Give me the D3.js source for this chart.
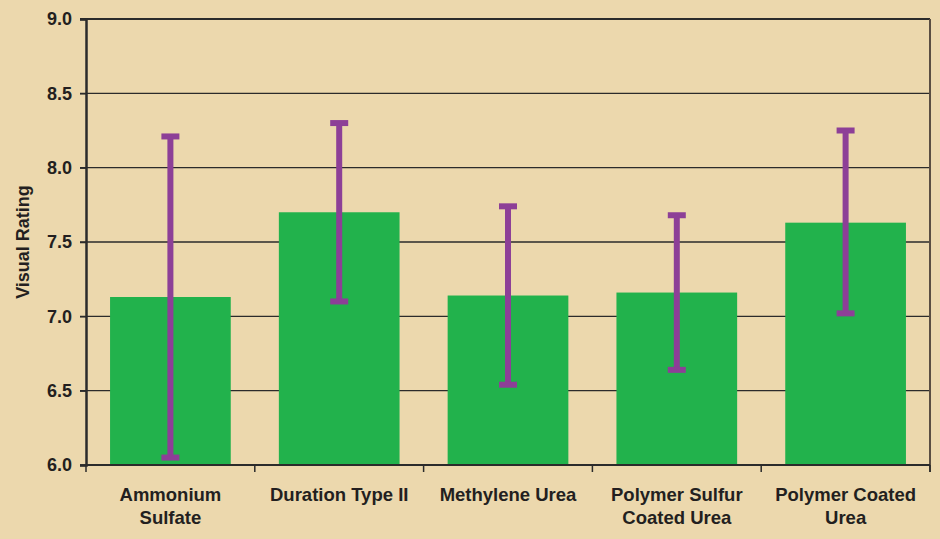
<!DOCTYPE html>
<html>
<head>
<meta charset="utf-8">
<script src="https://cdn.jsdelivr.net/npm/d3@7"></script>
<style>
  body { margin: 0; background: #ecd8ad; }
  text { font-family: "Liberation Sans", Arial, sans-serif; font-weight: bold; fill: #231f20; }
</style>
</head>
<body>
<div id="chart"></div>
<script>
// data
var categories = [["Ammonium", "Sulfate"], ["Duration Type II"], ["Methylene Urea"],
                  ["Polymer Sulfur", "Coated Urea"], ["Polymer Coated", "Urea"]];
var means = [7.13, 7.70, 7.14, 7.16, 7.63];
var errHigh = [8.21, 8.30, 7.74, 7.68, 8.25];
var errLow = [6.05, 7.10, 6.54, 6.64, 7.02];
var yTicks = [6.0, 6.5, 7.0, 7.5, 8.0, 8.5, 9.0];

var margin = { top: 19, right: 10, bottom: 74, left: 86 },
    width = 940 - margin.left - margin.right,
    height = 539 - margin.top - margin.bottom;

var svg = d3.select("#chart")
    .append("svg")
    .attr("width", 940)
    .attr("height", 539)
    .append("g")
    .attr("transform", "translate(" + margin.left + "," + margin.top + ")");

var x = d3.scaleBand()
    .domain(d3.range(categories.length))
    .range([0, width])
    .paddingInner(0.285)
    .paddingOuter(0.1425);

var y = d3.scaleLinear()
    .domain([6, 9])
    .range([height, 0]);

// gridlines
svg.selectAll(".grid")
    .data(yTicks)
    .enter()
    .append("line")
    .attr("x1", -6)
    .attr("x2", width)
    .attr("y1", function (d) { return y(d); })
    .attr("y2", function (d) { return y(d); })
    .style("stroke", "#2b2b2b")
    .style("stroke-width", function (d) { return d === 9 ? 2 : 1.3; });

// right border
svg.append("line")
    .attr("x1", width).attr("x2", width)
    .attr("y1", 0).attr("y2", height + 7)
    .style("stroke", "#5a4e42")
    .style("stroke-width", 2);

// bars
svg.selectAll(".bar")
    .data(means)
    .enter()
    .append("rect")
    .attr("x", function (d, i) { return x(i); })
    .attr("y", function (d) { return y(d); })
    .attr("width", x.bandwidth())
    .attr("height", function (d) { return height - y(d); })
    .style("fill", "#22b24c");

// y axis
var yAxis = d3.axisLeft(y).tickValues(yTicks).tickFormat(d3.format(".1f")).tickSize(6).tickPadding(8);
var gy = svg.append("g").call(yAxis);
gy.select(".domain").style("stroke", "#2b2b2b").style("stroke-width", 2.5);
gy.selectAll(".tick line").style("stroke", "#2b2b2b").style("stroke-width", 1.5);
gy.selectAll(".tick text").style("font-size", "18px");

// x axis
var step = width / categories.length;
var gx = svg.append("g").attr("transform", "translate(0," + height + ")");
gx.append("line").attr("x1", 0).attr("x2", width).attr("y1", 0).attr("y2", 0)
    .style("stroke", "#2b2b2b").style("stroke-width", 2);
gx.selectAll(".xt")
    .data(d3.range(categories.length + 1))
    .enter()
    .append("line")
    .attr("x1", function (d) { return d * step; })
    .attr("x2", function (d) { return d * step; })
    .attr("y1", 0).attr("y2", 7)
    .style("stroke", "#2b2b2b").style("stroke-width", 1.5);

gx.selectAll(".xl")
    .data(categories)
    .enter()
    .append("text")
    .attr("text-anchor", "middle")
    .attr("transform", function (d, i) { return "translate(" + (x(i) + x.bandwidth() / 2) + ",36)"; })
    .style("font-size", "18.5px")
    .each(function (d) {
        d3.select(this).selectAll("tspan")
            .data(d)
            .enter()
            .append("tspan")
            .attr("x", 0)
            .attr("dy", function (t, j) { return j === 0 ? 0 : 22.5; })
            .text(function (t) { return t; });
    });

// error bars
var err = svg.selectAll(".err")
    .data(means)
    .enter()
    .append("g")
    .style("stroke", "#8d3f97");

err.append("line")
    .attr("x1", function (d, i) { return x(i) + x.bandwidth() / 2; })
    .attr("x2", function (d, i) { return x(i) + x.bandwidth() / 2; })
    .attr("y1", function (d, i) { return y(errHigh[i]); })
    .attr("y2", function (d, i) { return y(errLow[i]); })
    .style("stroke-width", 6);

[errHigh, errLow].forEach(function (arr) {
    err.append("line")
        .attr("x1", function (d, i) { return x(i) + x.bandwidth() / 2 - 9; })
        .attr("x2", function (d, i) { return x(i) + x.bandwidth() / 2 + 9; })
        .attr("y1", function (d, i) { return y(arr[i]); })
        .attr("y2", function (d, i) { return y(arr[i]); })
        .style("stroke-width", 6);
});

// y label
svg.append("text")
    .attr("transform", "translate(" + (-57) + "," + (height / 2) + ") rotate(-90)")
    .attr("text-anchor", "middle")
    .style("font-size", "18px")
    .text("Visual Rating");
</script>
</body>
</html>
